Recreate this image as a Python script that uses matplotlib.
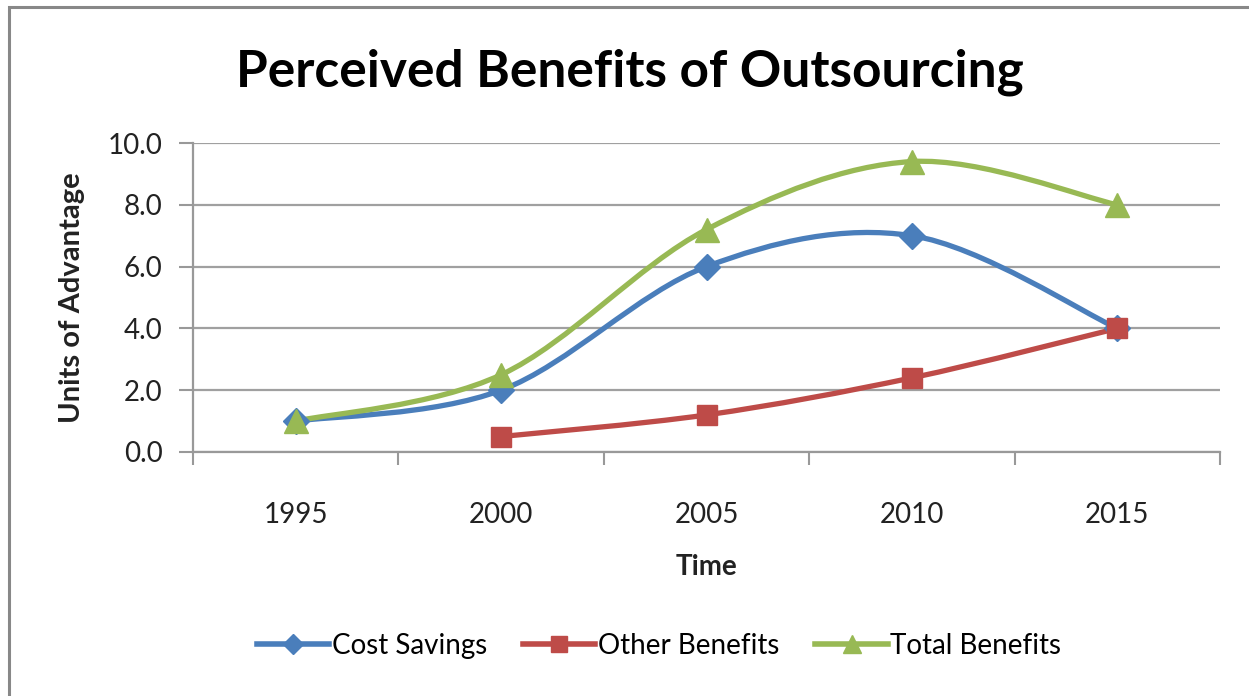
import numpy as np
import matplotlib.pyplot as plt
from matplotlib.path import Path
from matplotlib.patches import PathPatch, Rectangle
from matplotlib.lines import Line2D

plt.rcParams['font.family'] = ['Lato', 'DejaVu Sans']

years = ['1995', '2000', '2005', '2010', '2015']
cost_savings = [1.0, 2.0, 6.0, 7.0, 4.0]
other_benefits = [None, 0.5, 1.2, 2.4, 4.0]
total_benefits = [1.0, 2.5, 7.2, 9.4, 8.0]

series_names = ['Cost Savings', 'Other Benefits', 'Total Benefits']
colors = ['#4A7EBB', '#BE4B48', '#98B954']
markers = ['D', 's', '^']
marker_sizes = [13, 15, 17]


def smooth_path(xs, ys):
    # Bezier curve through the points, same idea as the spreadsheet "smoothed line"
    pts = np.column_stack([xs, ys]).astype(float)
    verts = [pts[0]]
    codes = [Path.MOVETO]
    n = len(pts)
    for i in range(n - 1):
        p0 = pts[max(i - 1, 0)]
        p1 = pts[i]
        p2 = pts[i + 1]
        p3 = pts[min(i + 2, n - 1)]
        c1 = p1 + (p2 - p0) / 6.0
        c2 = p2 - (p3 - p1) / 6.0
        verts += [c1, c2, p2]
        codes += [Path.CURVE4] * 3
    return Path(verts, codes)


fig = plt.figure(figsize=(12.49, 6.96), dpi=100)
ax = fig.add_axes([193 / 1249, 1 - 452 / 696, (1220 - 193) / 1249, (452 - 143) / 696])

all_series = [cost_savings, other_benefits, total_benefits]
for vals, c, m, ms in zip(all_series, colors, markers, marker_sizes):
    xs = [i for i, v in enumerate(vals) if v is not None]
    ys = [v for v in vals if v is not None]
    ax.add_patch(PathPatch(smooth_path(xs, ys), facecolor='none', edgecolor=c,
                           lw=3.8, capstyle='round', joinstyle='round', zorder=3))
    ax.plot(xs, ys, linestyle='none', marker=m, markersize=ms, color=c,
            markeredgecolor=c, zorder=4)

ax.set_xlim(-0.5, 4.5)
ax.set_ylim(0, 10)
ax.set_yticks(np.arange(0, 10.1, 2))
ax.set_yticklabels(['%.1f' % v for v in np.arange(0, 10.1, 2)], fontsize=20, color='#222222')
ax.set_xticks(range(len(years)))
ax.set_xticklabels(years, fontsize=20, color='#222222')
ax.set_xticks(np.arange(-0.5, 4.6, 1), minor=True)
ax.tick_params(axis='x', which='major', length=0, pad=36)
ax.tick_params(axis='x', which='minor', length=9, width=1.5, color='#999999', direction='out')
ax.tick_params(axis='y', length=10, width=1.5, color='#999999', pad=12)

ax.grid(axis='y', color='#A0A0A0', lw=1.6)
ax.set_axisbelow(True)
for s in ['top', 'right']:
    ax.spines[s].set_visible(False)
for s in ['left', 'bottom']:
    ax.spines[s].set_color('#999999')
    ax.spines[s].set_linewidth(1.6)

fig.text(630 / 1249, 1 - 72 / 696, 'Perceived Benefits of Outsourcing',
         fontsize=37, fontweight='bold', ha='center', va='center')
fig.text(72 / 1249, 1 - 298 / 696, 'Units of Advantage', fontsize=21,
         fontweight='bold', rotation=90, ha='center', va='center', color='#222222')
fig.text(706 / 1249, 1 - 567 / 696, 'Time', fontsize=20,
         fontweight='bold', ha='center', va='center', color='#222222')

handles = [Line2D([0], [0], color=c, lw=4, marker=m, markersize=ms * 0.75)
           for c, m, ms in zip(colors, markers, marker_sizes)]
fig.legend(handles, series_names, loc='center', bbox_to_anchor=(659 / 1249, 1 - 646 / 696),
           ncol=3, frameon=False, fontsize=20, handlelength=2.6, handletextpad=0.1,
           columnspacing=1.3)

fig.patches.append(Rectangle((9 / 1249, -0.05), 1.2, 1 - 7 / 696 + 0.05,
                             transform=fig.transFigure, fill=False,
                             edgecolor='#888888', lw=2.2))

fig.savefig('out.png', dpi=100)
